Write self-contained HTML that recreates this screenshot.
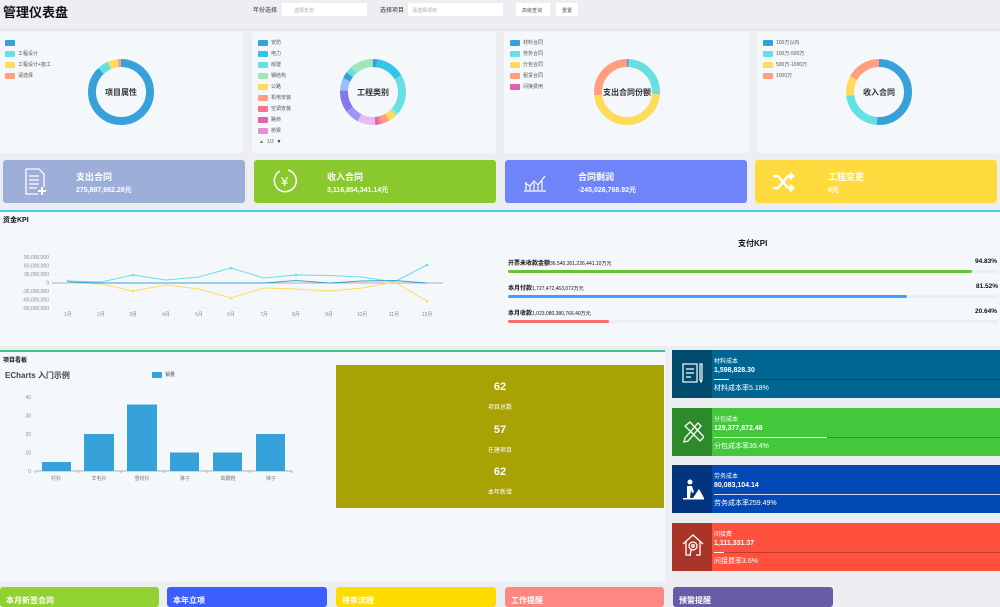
<!DOCTYPE html>
<html><head><meta charset="utf-8"><style>
*{margin:0;padding:0;box-sizing:border-box}
body{width:1000px;height:600px;overflow:hidden;background:#eceef2;font-family:"Liberation Sans","Noto Sans CJK SC",sans-serif;position:relative;color:#333}
.a{position:absolute}
.card{position:absolute;background:#f5f8fb;border-radius:4px}
.lg{position:absolute;font-size:5px;color:#555;display:flex;align-items:center}
.lg i{display:inline-block;width:10px;height:6px;border-radius:1px;margin-right:3px}
.cc{position:absolute;color:#fff;border-radius:3px}
.cc b{position:absolute;font-size:9px}
.cc span{position:absolute;font-size:7px;font-weight:bold}
.ct{position:absolute;color:#fff;left:672px;width:328px;height:48px}
.ct .ic{position:absolute;left:0;top:0;width:40px;height:48px}
.ct .n{position:absolute;left:42px;top:6px;font-size:6px}
.ct .v{position:absolute;left:42px;top:17px;font-size:7px;font-weight:bold}
.ct .l{position:absolute;left:42px;top:29px;right:0;height:1px;background:rgba(0,0,0,.25)}
.ct .r{position:absolute;left:42px;top:33px;font-size:7px}
.bc{position:absolute;top:587px;height:20px;border-radius:3px;color:#fff;font-size:8px;font-weight:bold;padding:8px 0 0 6px}
</style></head><body>
<div class="a" style="left:3px;top:2px;font-size:13px;font-weight:bold;color:#111">管理仪表盘</div>
<div class="a" style="left:253px;top:5px;font-size:6px;color:#333">年份选择</div>
<div class="a" style="left:282px;top:3px;width:85px;height:13px;background:#fff;font-size:5px;color:#aaa;padding:4px 0 0 12px">选择年份</div>
<div class="a" style="left:380px;top:5px;font-size:6px;color:#333">选择项目</div>
<div class="a" style="left:408px;top:3px;width:95px;height:13px;background:#fff;font-size:5px;color:#aaa;padding:4px 0 0 4px">请选择项目</div>
<div class="a" style="left:516px;top:3px;width:34px;height:13px;background:#fff;font-size:5px;color:#555;padding:4px 0 0 6px">高级查询</div>
<div class="a" style="left:556px;top:3px;width:22px;height:13px;background:#fff;font-size:5px;color:#555;padding:4px 0 0 6px">重置</div>
<div class="a" style="left:0;top:29px;width:1000px;height:1px;background:#dcdfe4"></div>

<div class="card" style="left:0;top:32px;width:243px;height:121px"></div>
<div class="card" style="left:252px;top:32px;width:244px;height:121px"></div>
<div class="card" style="left:504px;top:32px;width:245px;height:121px"></div>
<div class="card" style="left:757px;top:32px;width:243px;height:121px"></div>

<div class="lg" style="left:5px;top:40px"><i style="background:#37a2da"></i></div>
<div class="lg" style="left:5px;top:50px"><i style="background:#67e0e3"></i>工程设计</div>
<div class="lg" style="left:5px;top:61px"><i style="background:#ffdb5c"></i>工程设计+施工</div>
<div class="lg" style="left:5px;top:72px"><i style="background:#ff9f7f"></i>请选择</div>

<div class="lg" style="left:258px;top:39px"><i style="background:#37a2da"></i>安防</div>
<div class="lg" style="left:258px;top:50px"><i style="background:#32c5e9"></i>电力</div>
<div class="lg" style="left:258px;top:61px"><i style="background:#67e0e3"></i>房建</div>
<div class="lg" style="left:258px;top:72px"><i style="background:#9fe6b8"></i>钢结构</div>
<div class="lg" style="left:258px;top:83px"><i style="background:#ffdb5c"></i>公路</div>
<div class="lg" style="left:258px;top:94px"><i style="background:#ff9f7f"></i>机电安装</div>
<div class="lg" style="left:258px;top:105px"><i style="background:#fb7293"></i>空调安装</div>
<div class="lg" style="left:258px;top:116px"><i style="background:#e062ae"></i>路桥</div>
<div class="lg" style="left:258px;top:127px"><i style="background:#e690d1"></i>桥梁</div>
<div class="lg" style="left:259px;top:139px;color:#666">▲&nbsp; 1/3 &nbsp;<span style="color:#333">▼</span></div>

<div class="lg" style="left:510px;top:39px"><i style="background:#37a2da"></i>材料合同</div>
<div class="lg" style="left:510px;top:50px"><i style="background:#67e0e3"></i>劳务合同</div>
<div class="lg" style="left:510px;top:61px"><i style="background:#ffdb5c"></i>分包合同</div>
<div class="lg" style="left:510px;top:72px"><i style="background:#ff9f7f"></i>租赁合同</div>
<div class="lg" style="left:510px;top:83px"><i style="background:#e062ae"></i>间接费用</div>

<div class="lg" style="left:763px;top:39px"><i style="background:#37a2da"></i>100万以内</div>
<div class="lg" style="left:763px;top:50px"><i style="background:#67e0e3"></i>100万-500万</div>
<div class="lg" style="left:763px;top:61px"><i style="background:#ffdb5c"></i>500万-1000万</div>
<div class="lg" style="left:763px;top:72px"><i style="background:#ff9f7f"></i>1000万</div>

<svg class="a" style="left:0;top:0" width="1000" height="160">
<g fill="none" stroke-width="8">
<g transform="translate(121,92) rotate(-90)">
<circle r="29" stroke="#37a2da" stroke-dasharray="160 200"/>
<circle r="29" stroke="#67e0e3" stroke-dasharray="10 200" stroke-dashoffset="-160"/>
<circle r="29" stroke="#ffdb5c" stroke-dasharray="9 200" stroke-dashoffset="-170"/>
<circle r="29" stroke="#ff9f7f" stroke-dasharray="4 200" stroke-dashoffset="-179"/>
</g>
<g transform="translate(373,92) rotate(-90)">
<circle r="29" stroke="#37a2da" stroke-dasharray="4 200"/>
<circle r="29" stroke="#32c5e9" stroke-dasharray="26 200" stroke-dashoffset="-4"/>
<circle r="29" stroke="#67e0e3" stroke-dasharray="36 200" stroke-dashoffset="-30"/>
<circle r="29" stroke="#9fe6b8" stroke-dasharray="3 200" stroke-dashoffset="-66"/>
<circle r="29" stroke="#ffdb5c" stroke-dasharray="7 200" stroke-dashoffset="-69"/>
<circle r="29" stroke="#ff9f7f" stroke-dasharray="7 200" stroke-dashoffset="-76"/>
<circle r="29" stroke="#fb7293" stroke-dasharray="3 200" stroke-dashoffset="-83"/>
<circle r="29" stroke="#e062ae" stroke-dasharray="3 200" stroke-dashoffset="-86"/>
<circle r="29" stroke="#e7bcf3" stroke-dasharray="16 200" stroke-dashoffset="-89"/>
<circle r="29" stroke="#9d96f5" stroke-dasharray="13 200" stroke-dashoffset="-105"/>
<circle r="29" stroke="#8378ea" stroke-dasharray="20 200" stroke-dashoffset="-118"/>
<circle r="29" stroke="#96bfff" stroke-dasharray="11 200" stroke-dashoffset="-138"/>
<circle r="29" stroke="#37a2da" stroke-dasharray="6 200" stroke-dashoffset="-149"/>
<circle r="29" stroke="#67e0e3" stroke-dasharray="6 200" stroke-dashoffset="-155"/>
<circle r="29" stroke="#9fe6b8" stroke-dasharray="21.2 200" stroke-dashoffset="-161"/>
</g>
<g transform="translate(627,92) rotate(-90)">
<circle r="29" stroke="#8378ea" stroke-dasharray="1.5 200"/>
<circle r="29" stroke="#67e0e3" stroke-dasharray="46 200" stroke-dashoffset="-1.5"/>
<circle r="29" stroke="#ffdb5c" stroke-dasharray="86 200" stroke-dashoffset="-47.5"/>
<circle r="29" stroke="#ff9f7f" stroke-dasharray="48.7 200" stroke-dashoffset="-133.5"/>
</g>
<g transform="translate(879,92) rotate(-90)">
<circle r="29" stroke="#37a2da" stroke-dasharray="93 200"/>
<circle r="29" stroke="#67e0e3" stroke-dasharray="40 200" stroke-dashoffset="-93"/>
<circle r="29" stroke="#ffdb5c" stroke-dasharray="18 200" stroke-dashoffset="-133"/>
<circle r="29" stroke="#ff9f7f" stroke-dasharray="31.2 200" stroke-dashoffset="-151"/>
</g>
</g>
<g font-size="8" font-weight="bold" fill="#333" text-anchor="middle" font-family="Liberation Sans,Noto Sans CJK SC,sans-serif">
<text x="121" y="95">项目属性</text><text x="373" y="95">工程类别</text><text x="627" y="95">支出合同份额</text><text x="879" y="95">收入合同</text>
</g>
</svg>

<div class="cc" style="left:3px;top:160px;width:242px;height:43px;background:#9daed9">
<svg class="a" style="left:22px;top:8px" width="22" height="28" fill="none" stroke="#fff" stroke-width="1.3"><path d="M1 1h13l5 5v13M1 1v25h12M4 8h10M4 12h10M4 16h10M4 20h8"/><path d="M17 19v8M13 23h8" stroke-width="2"/></svg>
<b style="left:73px;top:10px">支出合同</b><span style="left:73px;top:25px">275,887,982.29元</span></div>
<div class="cc" style="left:254px;top:160px;width:242px;height:43px;background:#8ac92e">
<svg class="a" style="left:18px;top:7px" width="28" height="28" fill="none" stroke="#fff" stroke-width="1.5"><path d="M8 4a11 11 0 1 0 8-1"/><text x="9" y="19" fill="#fff" stroke="none" font-size="13">¥</text></svg>
<b style="left:73px;top:10px">收入合同</b><span style="left:73px;top:25px">3,116,854,341.14元</span></div>
<div class="cc" style="left:505px;top:160px;width:242px;height:43px;background:#6f84f8">
<svg class="a" style="left:18px;top:11px" width="24" height="22" fill="none" stroke="#fff" stroke-width="1.2"><path d="M1 20h22M3 19v-8M7 19v-5M11 19v-7M15 19v-4M19 19v-9M2 12l5 3 4-5 4 4 7-9"/></svg>
<b style="left:73px;top:10px">合同剩润</b><span style="left:73px;top:25px">-245,026,768.92元</span></div>
<div class="cc" style="left:755px;top:160px;width:242px;height:43px;background:#ffdb3f">
<svg class="a" style="left:17px;top:12px" width="24" height="20" fill="none" stroke="#fff" stroke-width="2.5"><path d="M1 4h5l10 12h5M1 16h5l10-12h5M18 1l3 3-3 3M18 13l3 3-3 3"/></svg>
<b style="left:73px;top:10px">工程变更</b><span style="left:73px;top:25px">6元</span></div>

<div class="a" style="left:0;top:210px;width:1000px;height:136px;background:#f5f8fb;border-top:2px solid #45c9ec"></div>
<div class="a" style="left:3px;top:215px;font-size:7px;font-weight:bold;color:#111">资金KPI</div>
<svg class="a" style="left:0;top:250px" width="500" height="75" font-family="Liberation Sans,sans-serif">
<g stroke="#eef0f4" stroke-width="0.6"><path d="M52 7.5H443M52 16H443M52 24.5H443M52 41.5H443M52 50H443M52 58.5H443"/></g>
<path d="M52 33H443" stroke="#999" stroke-width="0.7"/>
<g font-size="5" fill="#888" text-anchor="end"><text x="49" y="9">90,000,000</text><text x="49" y="17.5">60,000,000</text><text x="49" y="26">30,000,000</text><text x="49" y="34.5">0</text><text x="49" y="43">-30,000,000</text><text x="49" y="51.5">-60,000,000</text><text x="49" y="60">-90,000,000</text></g>
<g font-size="5" fill="#888" text-anchor="middle"><text x="68" y="66">1月</text><text x="101" y="66">2月</text><text x="133" y="66">3月</text><text x="166" y="66">4月</text><text x="199" y="66">5月</text><text x="231" y="66">6月</text><text x="264" y="66">7月</text><text x="296" y="66">8月</text><text x="329" y="66">9月</text><text x="362" y="66">10月</text><text x="394" y="66">11月</text><text x="427" y="66">12月</text></g>
<g fill="none" stroke-width="1" stroke-linejoin="round">
<polyline stroke="#67e0e3" points="68,31 101,32 133,25 166,30 199,27 231,18 264,28 296,25 329,25.5 362,27 394,32 427,15"/>
<polyline stroke="#ffdb5c" points="68,33 101,34 133,41 166,35 199,39 231,48 264,38 296,39 329,41 362,38 394,32 427,51"/>
<polyline stroke="#37a2da" points="68,32 101,33 133,33 166,33 199,33 231,33 264,33 296,30.5 329,33 362,31 394,30.5 427,33"/>
</g>
<g stroke-width="0"><g fill="#67e0e3"><circle cx="68" cy="31" r="1.3"/><circle cx="133" cy="25" r="1.3"/><circle cx="231" cy="18" r="1.3"/><circle cx="296" cy="25" r="1.3"/><circle cx="427" cy="15" r="1.3"/></g><g fill="#ffdb5c"><circle cx="133" cy="41" r="1.3"/><circle cx="231" cy="48" r="1.3"/><circle cx="427" cy="51" r="1.3"/></g></g>
</svg>
<div class="a" style="left:738px;top:238px;font-size:8px;font-weight:bold;color:#111">支付KPI</div>
<div class="a" style="left:508px;top:258px;font-size:6px;font-weight:bold;color:#111">开票未收款金额<span style="font-weight:normal;font-size:5px">36,540,301,226,441.10万元</span></div>
<div class="a" style="left:975px;top:258px;font-size:6.5px;font-weight:bold;color:#111">94.83%</div>
<div class="a" style="left:508px;top:270px;width:490px;height:3px;background:#ebeef5;border-radius:2px"><div style="width:464px;height:3px;background:#67c23a;border-radius:2px"></div></div>
<div class="a" style="left:508px;top:283px;font-size:6px;font-weight:bold;color:#111">本月付款<span style="font-weight:normal;font-size:5px">1,727,472,463,072万元</span></div>
<div class="a" style="left:976px;top:283px;font-size:6.5px;font-weight:bold;color:#111">81.52%</div>
<div class="a" style="left:508px;top:295px;width:490px;height:3px;background:#ebeef5;border-radius:2px"><div style="width:399px;height:3px;background:#409eff;border-radius:2px"></div></div>
<div class="a" style="left:508px;top:308px;font-size:6px;font-weight:bold;color:#111">本月收款<span style="font-weight:normal;font-size:5px">1,023,080,380,766.40万元</span></div>
<div class="a" style="left:975px;top:308px;font-size:6.5px;font-weight:bold;color:#111">20.64%</div>
<div class="a" style="left:508px;top:320px;width:490px;height:3px;background:#ebeef5;border-radius:2px"><div style="width:101px;height:3px;background:#f56c6c;border-radius:2px"></div></div>

<div class="a" style="left:0;top:350px;width:665px;height:231px;background:#f5f8fb;border-top:2px solid #3fbf8a"></div>
<div class="a" style="left:3px;top:355px;font-size:6px;font-weight:bold;color:#111">项目看板</div>
<div class="a" style="left:5px;top:370px;font-size:8px;font-weight:bold;color:#444">ECharts 入门示例</div>
<div class="lg" style="left:152px;top:371px"><i style="background:#37a2da"></i>销量</div>
<svg class="a" style="left:0;top:390px" width="300" height="95" font-family="Liberation Sans,sans-serif">
<g stroke="#eceff3" stroke-width="0.6"><path d="M35 7H292M35 25.5H292M35 44H292M35 62.5H292"/></g>
<path d="M35 81H292M35 81v2M78 81v2M121 81v2M164 81v2M207 81v2M250 81v2M292 81v2" stroke="#999" stroke-width="0.7"/>
<g font-size="5" fill="#888" text-anchor="end"><text x="31" y="9">40</text><text x="31" y="27.5">30</text><text x="31" y="46">20</text><text x="31" y="64.5">10</text><text x="31" y="83">0</text></g>
<g fill="#37a2da"><rect x="42" y="72" width="29" height="9"/><rect x="84" y="44" width="30" height="37"/><rect x="127" y="14.5" width="30" height="66.5"/><rect x="170" y="62.5" width="29" height="18.5"/><rect x="213" y="62.5" width="29" height="18.5"/><rect x="256" y="44" width="29" height="37"/></g>
<g font-size="5" fill="#777" text-anchor="middle"><text x="56" y="90">衬衫</text><text x="99" y="90">羊毛衫</text><text x="142" y="90">雪纺衫</text><text x="185" y="90">裤子</text><text x="228" y="90">高跟鞋</text><text x="271" y="90">袜子</text></g>
</svg>
<div class="a" style="left:336px;top:365px;width:328px;height:143px;background:#a8a204;color:#fff;text-align:center">
<div class="a" style="left:0;width:328px;top:16px;font-size:11px;font-weight:bold">62</div>
<div class="a" style="left:0;width:328px;top:37px;font-size:6px">项目总数</div>
<div class="a" style="left:0;width:328px;top:59px;font-size:11px;font-weight:bold">57</div>
<div class="a" style="left:0;width:328px;top:80px;font-size:6px">在建项目</div>
<div class="a" style="left:0;width:328px;top:101px;font-size:11px;font-weight:bold">62</div>
<div class="a" style="left:0;width:328px;top:122px;font-size:6px">本年新增</div>
</div>

<div class="ct" style="top:350px;background:#006691"><div class="ic" style="background:#004a6e"></div><div class="n">材料成本</div><div class="v">1,598,828.30</div><div class="l"></div><div class="a" style="left:42px;top:29px;width:15px;height:1px;background:#fff"></div><div class="r">材料成本率5.18%</div></div>
<div class="ct" style="top:408px;background:#43c83c"><div class="ic" style="background:#2d8a2a"></div><div class="n">分包成本</div><div class="v">129,377,872.48</div><div class="l"></div><div class="a" style="left:42px;top:29px;width:113px;height:1px;background:#e8f5e8"></div><div class="r">分包成本率39.4%</div></div>
<div class="ct" style="top:465px;background:#0249b5"><div class="ic" style="background:#03347e"></div><div class="n">劳务成本</div><div class="v">80,083,104.14</div><div class="a" style="left:42px;top:29px;right:0;height:1px;background:#cfd8ef"></div><div class="r">劳务成本率259.49%</div></div>
<div class="ct" style="top:523px;background:#ff513e"><div class="ic" style="background:#aa3428"></div><div class="n">间接费</div><div class="v">1,111,331.37</div><div class="l"></div><div class="a" style="left:42px;top:29px;width:10px;height:1px;background:#fff"></div><div class="r">间接费率3.6%</div></div>
<svg class="a" style="left:682px;top:362px" width="22" height="22" fill="none" stroke="#fff" stroke-width="1.2"><rect x="1" y="2" width="14" height="18"/><path d="M4 7h8M4 11h8M4 15h5M18 2v16l1 2 1-2V2z"/></svg>
<svg class="a" style="left:682px;top:420px" width="22" height="24" fill="none" stroke="#fff" stroke-width="1.3"><path d="M3 18L16 3l3 3L6 21l-4 1zM3 6l5-4 14 15-4 4z"/></svg>
<svg class="a" style="left:682px;top:478px" width="22" height="22" fill="#fff"><circle cx="8" cy="4" r="2.5"/><path d="M5 8h5l2 6-2 1-1-3-1 8H5z"/><path d="M11 20l6-9 5 9z"/><rect x="1" y="20" width="21" height="1.5"/></svg>
<svg class="a" style="left:682px;top:534px" width="22" height="24" fill="none" stroke="#fff" stroke-width="1.3"><path d="M1 10L11 1l10 9M4 8v13h4M18 8v13h-4"/><circle cx="11" cy="12" r="4"/><circle cx="11" cy="12" r="1.3"/><path d="M9 16l-1 6"/></svg>

<div class="bc" style="left:0;width:159px;background:#91d130">本月新签合同</div>
<div class="bc" style="left:167px;width:160px;background:#3a5eff">本年立项</div>
<div class="bc" style="left:336px;width:160px;background:#ffdc00">待审流程</div>
<div class="bc" style="left:505px;width:159px;background:#ff8781">工作提醒</div>
<div class="bc" style="left:673px;width:160px;background:#6a5ba8">预警提醒</div>
</body></html>
